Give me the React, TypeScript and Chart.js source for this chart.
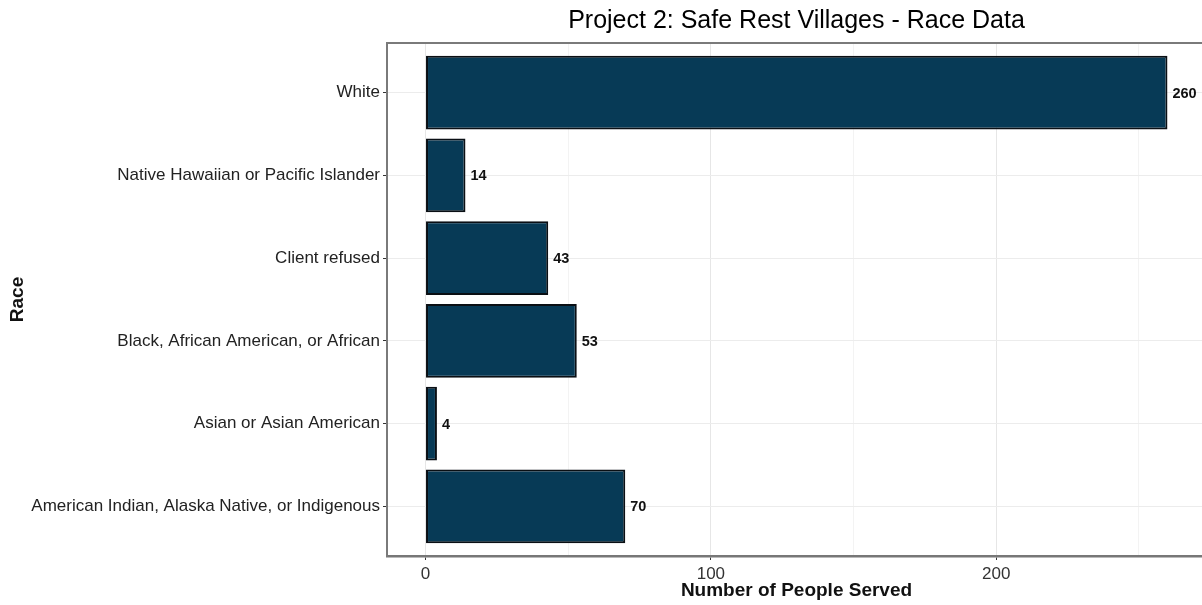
import React, { useEffect, useRef } from "react";
import { Chart, registerables } from "chart.js";

Chart.register(...registerables);

const categories = [
  "White",
  "Native Hawaiian or Pacific Islander",
  "Client refused",
  "Black, African American, or African",
  "Asian or Asian American",
  "American Indian, Alaska Native, or Indigenous",
];
const counts = [260, 14, 43, 53, 4, 70];
const xTickValues = [0, 50, 100, 150, 200, 250];
const xLabelValues = [0, 100, 200];

const FONT = "'Liberation Sans', Arial, sans-serif";

const valueLabels = {
  id: "valueLabels",
  afterDatasetsDraw(chart: any) {
    const ctx = chart.ctx;
    const meta = chart.getDatasetMeta(0);
    ctx.save();
    ctx.font = `bold 14.5px ${FONT}`;
    ctx.fillStyle = "#111";
    ctx.textAlign = "left";
    ctx.textBaseline = "middle";
    meta.data.forEach((el: any, i: number) => {
      ctx.fillText(String(counts[i]), el.x + 5, el.y + 1);
    });
    ctx.restore();
  },
};

const panelBorder = {
  id: "panelBorder",
  afterDraw(chart: any) {
    const { ctx, chartArea } = chart;
    ctx.save();
    ctx.strokeStyle = "#7a7a7a";
    ctx.lineWidth = 2;
    ctx.beginPath();
    ctx.moveTo(chartArea.left, chartArea.bottom);
    ctx.lineTo(chartArea.left, chartArea.top);
    ctx.lineTo(chartArea.right, chartArea.top);
    ctx.stroke();
    ctx.restore();
  },
};

export default function App() {
  const ref = useRef<HTMLCanvasElement | null>(null);
  useEffect(() => {
    if (!ref.current) return;
    const chart = new Chart(ref.current, {
      type: "bar",
      data: {
        datasets: [
          {
            data: counts.map((v, i) => ({ x: v, y: i })),
            backgroundColor: "#073a56",
            borderColor: "#0a0f14",
            borderWidth: 2,
            borderSkipped: false,
            barPercentage: 0.89,
            categoryPercentage: 1,
          },
        ],
      },
      options: {
        indexAxis: "y",
        animation: false,
        responsive: false,
        layout: { padding: { left: 0, right: 6, top: 0, bottom: 0 } },
        plugins: {
          legend: { display: false },
          tooltip: { enabled: false },
          title: {
            display: true,
            text: "Project 2: Safe Rest Villages - Race Data",
            fullSize: false,
            color: "#000",
            font: { family: FONT, size: 25, weight: "normal" },
            padding: { top: 6, bottom: 7 },
          },
        },
        scales: {
          x: {
            type: "linear",
            min: -13.5,
            max: 273.5,
            afterBuildTicks(scale: any) {
              scale.ticks = xTickValues.map((v) => ({ value: v }));
            },
            afterFit(scale: any) {
              scale.height = 49;
            },
            ticks: {
              autoSkip: false,
              maxRotation: 0,
              padding: 4,
              color: "#333",
              font: { family: FONT, size: 17 },
              callback: (v: any) => (xLabelValues.includes(Number(v)) ? String(v) : ""),
            },
            grid: {
              color: (c: any) =>
                c.tick && xLabelValues.includes(c.tick.value) ? "#e6e6e6" : "#f3f3f3",
              tickColor: (c: any) =>
                c.tick && xLabelValues.includes(c.tick.value) ? "#333" : "rgba(0,0,0,0)",
              tickLength: 4,
              lineWidth: 1,
            },
            border: { display: true, color: "#777", width: 2.5 },
            title: {
              display: true,
              text: "Number of People Served",
              color: "#111",
              font: { family: FONT, size: 19, weight: "bold" },
              padding: { top: 0, bottom: 3 },
            },
          },
          y: {
            type: "linear",
            reverse: true,
            offset: false,
            min: -0.6,
            max: categories.length - 0.4,
            afterBuildTicks(scale: any) {
              scale.ticks = categories.map((_, i) => ({ value: i }));
            },
            afterFit(scale: any) {
              scale.width = 387;
            },
            ticks: {
              autoSkip: false,
              padding: 3,
              color: "#222",
              font: { family: FONT, size: 17 },
              callback: (v: any) => categories[Number(v)] ?? "",
            },
            grid: {
              offset: false,
              color: "#ececec",
              tickColor: "#333",
              tickLength: 4,
            },
            border: { display: true, color: "#7a7a7a", width: 2 },
            title: {
              display: true,
              text: "Race",
              color: "#111",
              font: { family: FONT, size: 19, weight: "bold" },
              padding: { top: 6, bottom: 0 },
            },
          },
        },
      },
      plugins: [valueLabels, panelBorder],
    } as any);
    return () => chart.destroy();
  }, []);
  return (
    <div
      style={{
        position: "fixed",
        left: 0,
        top: 0,
        width: 1202,
        height: 605,
        overflow: "hidden",
        background: "#fff",
      }}
    >
      <canvas ref={ref} width={1212} height={605} style={{ display: "block" }} />
    </div>
  );
}
